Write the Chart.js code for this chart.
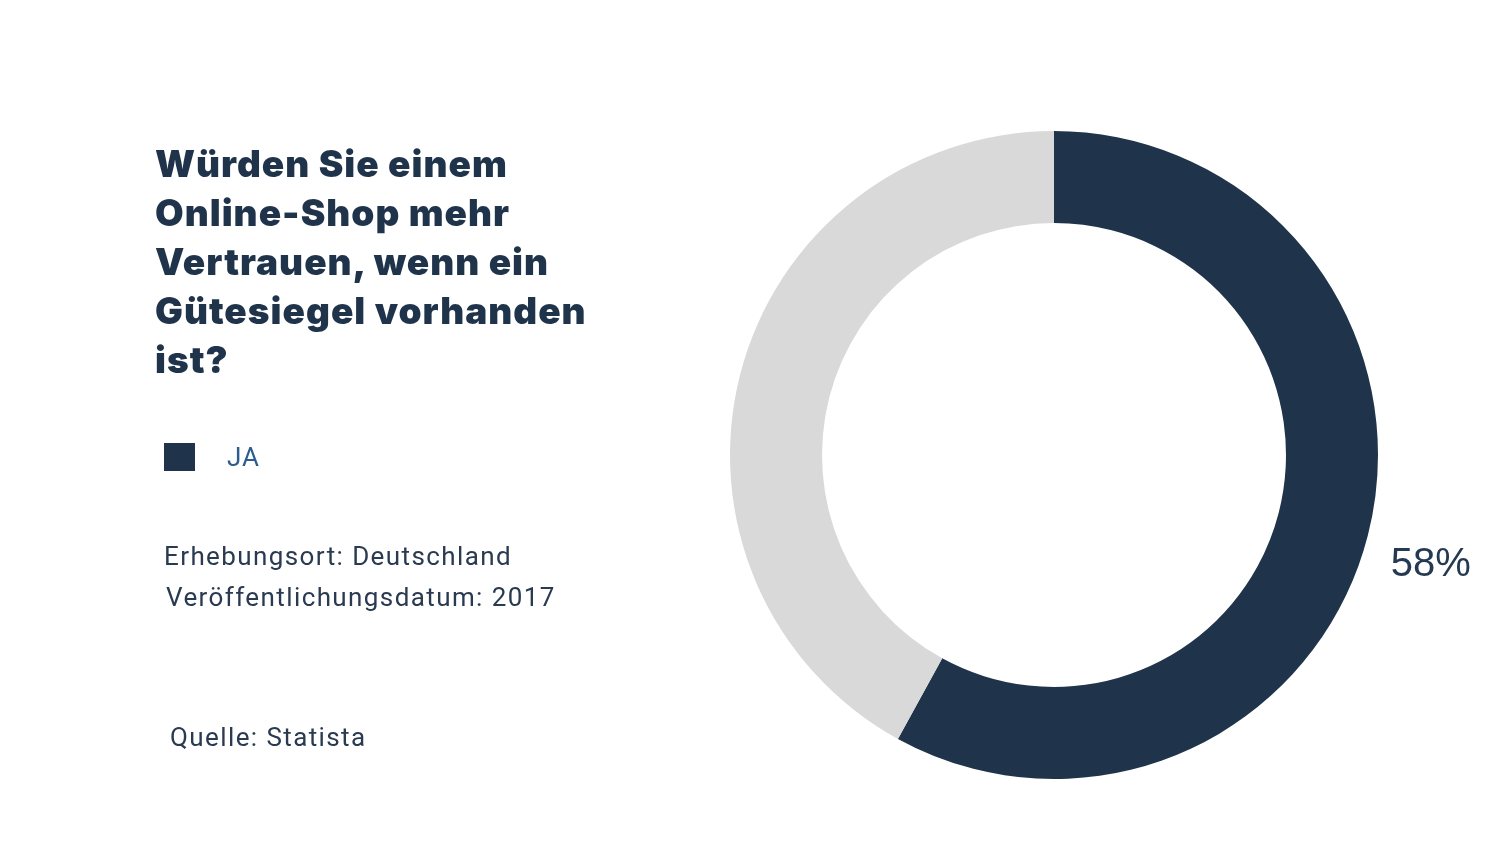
<!DOCTYPE html>
<html>
<head>
<meta charset="utf-8">
<script src="https://cdn.jsdelivr.net/npm/chart.js@4/dist/chart.umd.min.js"></script>
<style>
  html, body { margin: 0; padding: 0; background: #fff; }
  body { width: 1500px; height: 844px; position: relative; overflow: hidden; font-family: Roboto, "Noto Sans", sans-serif; }
  #wrap { position: absolute; left: 0; top: 0; width: 1500px; height: 844px; }
  .title { position: absolute; left: 155px; top: 139px; font-family: Inter, sans-serif; font-weight: 900;
           font-size: 37px; line-height: 49px; color: #1f344b; letter-spacing: 1px; white-space: nowrap; }
  #legend { position: absolute; left: 164px; top: 442px; }
  .lg-item { display: flex; align-items: center; height: 29px; }
  .lg-box { width: 31px; height: 28px; margin-right: 32px; }
  .lg-text { font-size: 26px; color: #2c5d90; letter-spacing: 1px; }
  .note { position: absolute; font-size: 26px; color: #2a3a50; white-space: nowrap; letter-spacing: 1.4px; }
</style>
</head>
<body>
<div id="wrap"><canvas id="chart"></canvas></div>
<div class="title">Würden Sie einem<br>Online-Shop mehr<br>Vertrauen, wenn ein<br>Gütesiegel vorhanden<br>ist?</div>
<div id="legend"></div>
<div class="note" style="left:164px; top:541px;">Erhebungsort: Deutschland</div>
<div class="note" style="left:166px; top:582px;">Veröffentlichungsdatum: 2017</div>
<div class="note" style="left:170px; top:722px;">Quelle: Statista</div>
<script>
// data
const categories = ["JA", "NEIN"];
const values = [58, 42];
const colors = ["#1f344b", "#d9d9d9"];
const shownLabels = ["58%", ""];

// percentage label outside the arc
const outsideLabels = {
  id: "outsideLabels",
  afterDatasetsDraw(chart){
    const ctx = chart.ctx;
    const arcs = chart.getDatasetMeta(0).data;
    arcs.forEach((arc, i) => {
      if (!shownLabels[i]) return;
      const mid = (arc.startAngle + arc.endAngle) / 2;
      const r = arc.outerRadius + 68;
      ctx.save();
      ctx.font = "40px 'Liberation Sans', Arial, sans-serif";
      ctx.fillStyle = "#243a52";
      ctx.textAlign = "center";
      ctx.textBaseline = "middle";
      ctx.fillText(shownLabels[i], arc.x + Math.cos(mid) * r - 3, arc.y + Math.sin(mid) * r + 12);
      ctx.restore();
    });
  }
};

const chart = new Chart(document.getElementById("chart"), {
  type: "doughnut",
  data: {
    labels: categories,
    datasets: [{ data: values, backgroundColor: colors, borderWidth: 0, hoverOffset: 0 }]
  },
  options: {
    responsive: true,
    maintainAspectRatio: false,
    animation: false,
    cutout: "71.6%",
    layout: { padding: { left: 730, right: 122, top: 131, bottom: 65 } },
    plugins: { legend: { display: false }, tooltip: { enabled: false } }
  },
  plugins: [outsideLabels]
});

// html legend, only the first category
const legend = document.getElementById("legend");
categories.slice(0, 1).forEach((c, i) => {
  const row = document.createElement("div");
  row.className = "lg-item";
  row.innerHTML = `<span class="lg-box" style="background:${colors[i]}"></span><span class="lg-text">${c}</span>`;
  legend.appendChild(row);
});
</script>
</body>
</html>
